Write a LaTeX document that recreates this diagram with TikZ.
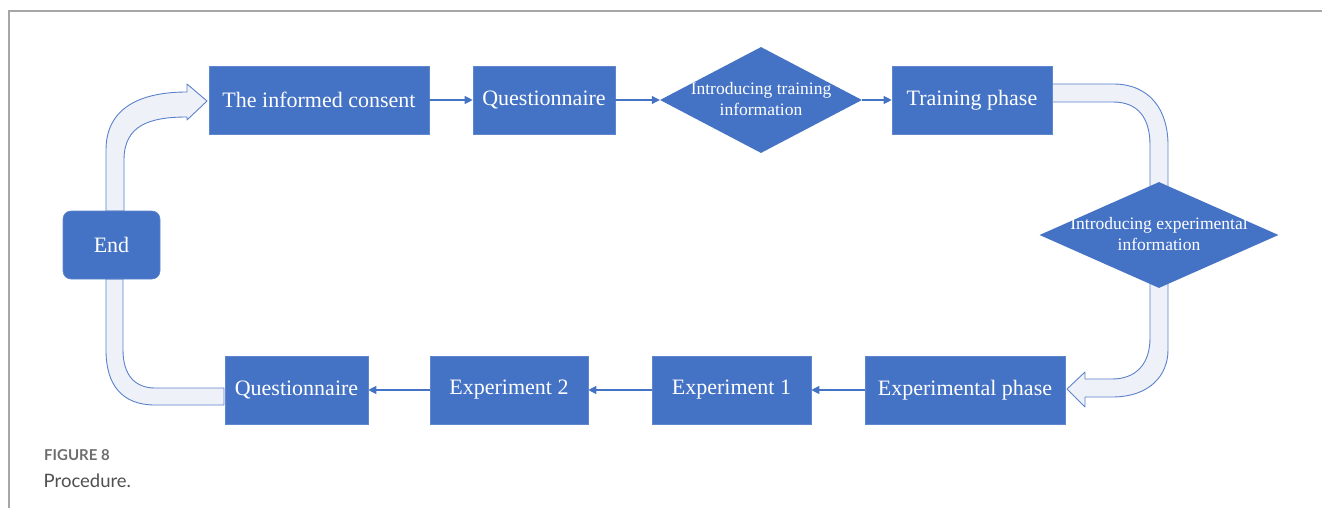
\documentclass[tikz,border=0pt]{standalone}
\usepackage{fontspec}
\setmainfont{Liberation Serif}
\newfontfamily\capfont{Lato}
\usetikzlibrary{shapes.geometric,arrows.meta}
\definecolor{boxblue}{HTML}{4472C4}
\definecolor{bandfill}{HTML}{EEF1F8}
\definecolor{bandline}{HTML}{5B82CC}
\definecolor{framegray}{HTML}{A6A6A6}
\definecolor{capgray}{HTML}{6E6E6E}
\definecolor{capdark}{HTML}{4F4F4F}
\tikzset{
  stepbox/.style={rectangle, fill=boxblue, draw=boxblue!85!white, line width=0.6pt, text=white, inner sep=0pt, font=\fontsize{22}{24}\selectfont},
  decision/.style={diamond, fill=boxblue, draw=none, inner sep=0pt, aspect=2},
  dectext/.style={text=white, inner sep=0pt, align=center, font=\fontsize{17.5}{21}\selectfont},
  flow/.style={draw=boxblue, line width=1.1pt, -{Triangle[length=8pt,width=8pt]}},
  band/.style={fill=bandfill, draw=bandline, line width=0.9pt, line join=round},
  frame/.style={draw=framegray, line width=1.4pt}
}
\begin{document}
\begin{tikzpicture}[x=1pt,y=-1pt]
\useasboundingbox (0,0) rectangle (1322,508);
% frame
\draw[frame] (1322,11) -- (9,11) -- (9,508);
% block arrows (behind nodes)
\path[band] (106,211) -- (106,150) .. controls (106,108) and (140,92) .. (187,92)
  -- (187,84) -- (207,101) -- (187,120) -- (187,117)
  .. controls (150,117) and (124,125) .. (124,160) -- (124,211) -- cycle;
\path[band] (1052,84) -- (1113,84) .. controls (1150,84) and (1168,110) .. (1168,145)
  -- (1168,200) -- (1150,200) -- (1150,145)
  .. controls (1150,118) and (1138,102) .. (1113,102) -- (1052,102) -- cycle;
\path[band] (1150,280) -- (1150,338) .. controls (1150,365) and (1135,379) .. (1112,379)
  -- (1085,379) -- (1085,372) -- (1067,389) -- (1085,407) -- (1085,397) -- (1112,397)
  .. controls (1150,397) and (1168,375) .. (1168,350) -- (1168,280) -- cycle;
\path[band] (106,279) -- (106,350) .. controls (106,385) and (122,405) .. (155,405)
  -- (224,405) -- (224,388) -- (155,388) .. controls (135,388) and (123,375) .. (123,350)
  -- (123,279) -- cycle;
% nodes
\node[stepbox, minimum width=220pt, minimum height=68pt] (consent) at (319,100) {The informed consent};
\node[stepbox, minimum width=142pt, minimum height=68pt] (q1) at (544,100) {Questionnaire};
\node[decision, minimum width=202pt, minimum height=106pt] (d1) at (761,100) {};
\node[dectext] (d1t) at (761,99.5) {Introducing training\\information};
\node[stepbox, minimum width=160pt, minimum height=68pt] (train) at (972,100) {Training phase};
\node[decision, minimum width=239pt, minimum height=106pt] (d2) at (1159,235) {};
\node[dectext] (d2t) at (1159,234.5) {Introducing experimental\\information};
\node[stepbox, minimum width=200pt, minimum height=68pt] (expph) at (965,390) {Experimental phase};
\node[stepbox, minimum width=159pt, minimum height=68pt] (exp1) at (731.5,390) {Experiment 1};
\node[stepbox, minimum width=158pt, minimum height=68pt] (exp2) at (509,390) {Experiment 2};
\node[stepbox, minimum width=143pt, minimum height=68pt] (q2) at (296.5,390) {Questionnaire};
\node[stepbox, rounded corners=8pt, minimum width=97pt, minimum height=68pt] (end) at (111.5,245) {End};
% connectors
\draw[flow] (consent.east) -- (q1.west);
\draw[flow] (q1.east) -- (d1.west);
\draw[flow] (d1.east) -- (train.west);
\draw[flow] (expph.west) -- (exp1.east);
\draw[flow] (exp1.west) -- (exp2.east);
\draw[flow] (exp2.west) -- (q2.east);
% caption
\node[anchor=base west, inner sep=0pt, text=capgray, font=\capfont\bfseries\fontsize{15}{18}\selectfont] (figlabel) at (44,460) {FIGURE 8};
\node[anchor=base west, inner sep=0pt, text=capdark, font=\capfont\fontsize{18.5}{22}\selectfont] (figcap) at (43.5,487) {Procedure.};
\end{tikzpicture}
\end{document}
